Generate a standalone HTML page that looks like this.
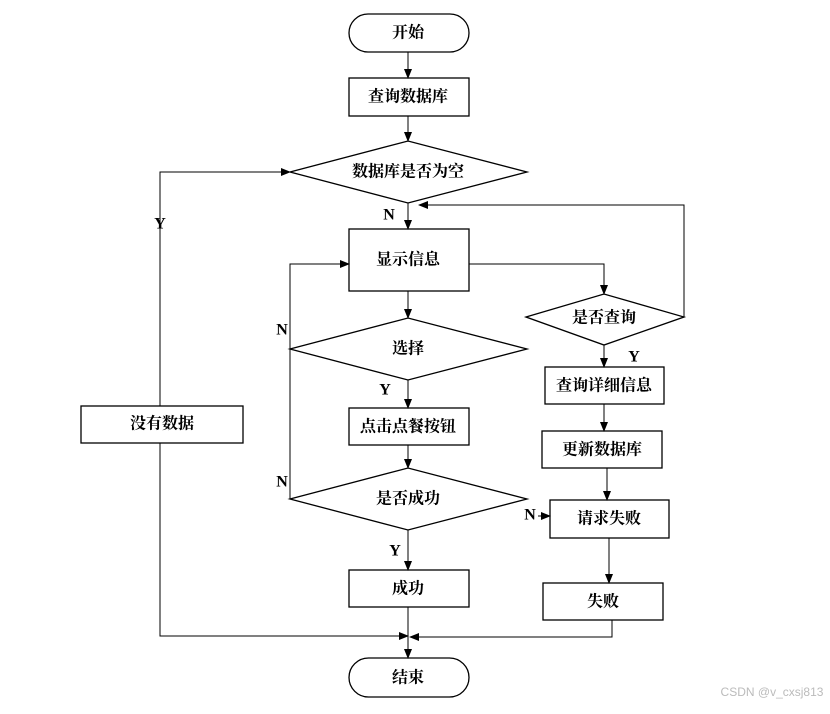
<!DOCTYPE html>
<html><head><meta charset="utf-8"><style>
body{margin:0;background:#fff}
text{font-family:"Liberation Serif","Noto Serif CJK SC",serif;font-size:16px;font-weight:bold;fill:#000;text-anchor:middle;dominant-baseline:central}
</style></head><body>
<svg width="830" height="709" xmlns="http://www.w3.org/2000/svg">
<defs><marker id="a" markerWidth="10" markerHeight="8" refX="9" refY="4" orient="auto" markerUnits="userSpaceOnUse"><path d="M0,0L10,4L0,8Z" fill="#000"/></marker></defs>
<g fill="none" stroke="#000" stroke-width="1.3">
<rect x="349" y="14" width="120" height="38" rx="19"/>
<rect x="349" y="78" width="120" height="38"/>
<polygon points="290,172 408,141 527,172 408,203"/>
<rect x="349" y="229" width="120" height="62"/>
<polygon points="290,349 408,318 527,349 408,380"/>
<rect x="349" y="408" width="120" height="37"/>
<polygon points="290,499 408,468 527,499 408,530"/>
<rect x="349" y="570" width="120" height="37"/>
<rect x="349" y="658" width="120" height="39" rx="19.5"/>
<rect x="81" y="406" width="162" height="37"/>
<polygon points="526,317 604,294 684,317 604,345"/>
<rect x="545" y="367" width="119" height="37"/>
<rect x="542" y="431" width="120" height="37"/>
<rect x="550" y="500" width="119" height="38"/>
<rect x="543" y="583" width="120" height="37"/>
</g>
<g fill="none" stroke="#000" stroke-width="1" marker-end="url(#a)">
<path d="M408,52V78"/>
<path d="M408,116V141"/>
<path d="M408,203V229"/>
<path d="M408,291V318"/>
<path d="M408,380V408"/>
<path d="M408,445V468"/>
<path d="M408,530V570"/>
<path d="M408,607V658"/>
<path d="M160,406V172H290"/>
<path d="M160,443V636H408"/>
<path d="M612,620V637H410"/>
<path d="M290,499V264H349"/>
<path d="M469,264H604V294"/>
<path d="M684,317V205H419"/>
<path d="M604,345V367"/>
<path d="M604,404V431"/>
<path d="M607,468V500"/>
<path d="M609,538V583"/>
<path d="M538,516H550"/>
</g>
<text x="408" y="33">开始</text>
<text x="408" y="97">查询数据库</text>
<text x="408" y="172">数据库是否为空</text>
<text x="408" y="260">显示信息</text>
<text x="408" y="349">选择</text>
<text x="408" y="427">点击点餐按钮</text>
<text x="408" y="499">是否成功</text>
<text x="408" y="589">成功</text>
<text x="408" y="678">结束</text>
<text x="162" y="424">没有数据</text>
<text x="604" y="318">是否查询</text>
<text x="604" y="386">查询详细信息</text>
<text x="602" y="450">更新数据库</text>
<text x="609" y="519">请求失败</text>
<text x="603" y="602">失败</text>
<text x="160" y="224">Y</text>
<text x="389" y="215">N</text>
<text x="282" y="330">N</text>
<text x="385" y="390">Y</text>
<text x="282" y="482">N</text>
<text x="395" y="551">Y</text>
<text x="530" y="515">N</text>
<text x="634" y="357">Y</text>
<text x="772" y="692" style="font-family:'Liberation Sans',sans-serif;font-weight:normal;font-size:12px;fill:#bbb">CSDN @v_cxsj813</text>
</svg>
</body></html>
